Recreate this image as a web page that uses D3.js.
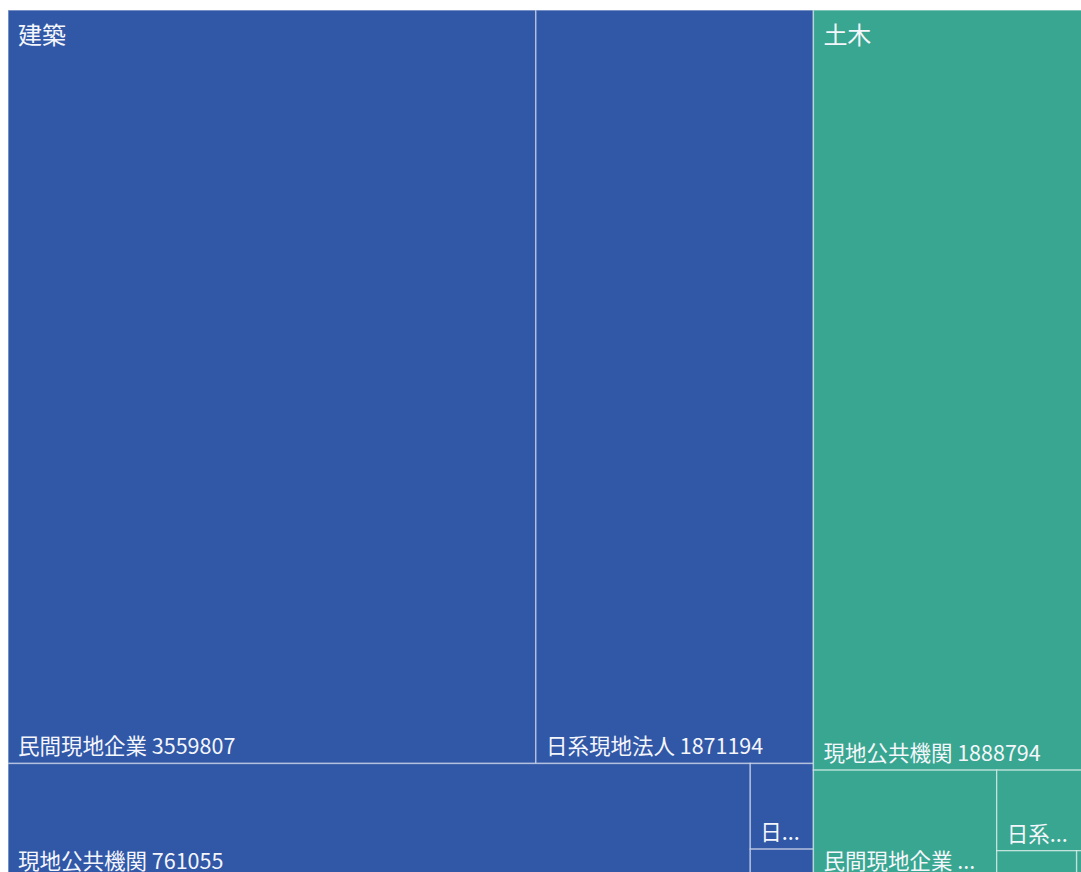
<!DOCTYPE html>
<html>
<head>
<meta charset="utf-8">
<script src="https://cdn.jsdelivr.net/npm/d3@7"></script>
<style>
  html, body { margin: 0; padding: 0; background: #ffffff; overflow: hidden; }
  svg { display: block; }
</style>
</head>
<body>
<svg id="chart" width="1081" height="872"></svg>
<script>
// Data
const groups = ["建築", "土木"];
const groupColors = ["#3157A7", "#38A690"];
const kenchikuNames  = ["民間現地企業", "日系現地法人", "現地公共機関", "日本ODA", "その他"];
const kenchikuValues = [3559807, 1871194, 761055, 48400, 16300];
const dobokuNames    = ["現地公共機関", "民間現地企業", "日系現地法人", "日本ODA", "その他"];
const dobokuValues   = [1888794, 177000, 68000, 19500, 3500];

const data = {
  name: "root",
  children: [
    { name: groups[0], color: groupColors[0],
      children: kenchikuNames.map((n, i) => ({ name: n, value: kenchikuValues[i] })) },
    { name: groups[1], color: groupColors[1],
      children: dobokuNames.map((n, i) => ({ name: n, value: dobokuValues[i] })) }
  ]
};

const svg = d3.select("#chart");
const W = 1083, H = 868, X0 = 8, Y0 = 10;

const root = d3.hierarchy(data)
  .sum(d => d.value || 0)
  .sort((a, b) => b.value - a.value);

d3.treemap()
  .tile(d3.treemapSquarify)
  .size([W, H])
  .paddingInner(0)
  .round(false)(root);

const g = svg.append("g").attr("transform", `translate(${X0},${Y0})`);

const leaves = root.leaves();
const cell = g.selectAll("g.leaf").data(leaves).join("g").attr("class", "leaf");

cell.append("rect")
  .attr("x", d => d.x0)
  .attr("y", d => d.y0)
  .attr("width", d => d.x1 - d.x0)
  .attr("height", d => d.y1 - d.y0)
  .attr("fill", d => d.parent.data.color)
  .attr("stroke", "rgba(255,255,255,0.45)")
  .attr("stroke-width", 1.5);

const font = "'Segoe UI', 'Noto Sans CJK JP', 'Noto Sans', sans-serif";

// leaf labels bottom-left
cell.filter(d => (d.y1 - d.y0) >= 40)
  .append("text")
  .attr("x", d => d.x0 + 10)
  .attr("y", d => d.y1 - 9)
  .attr("fill", "#f4f6fb")
  .style("font-family", font)
  .style("font-size", "21.5px")
  .each(function(d) {
    const t = d3.select(this);
    const full = d.data.name + " " + d.data.value;
    const avail = (d.x1 - d.x0) - 22;
    t.text(full);
    if (this.getComputedTextLength() > avail) {
      // first drop the value, keeping the name
      t.text(d.data.name + " ...");
      if (this.getComputedTextLength() > avail) {
        let n = d.data.name.length - 1;
        while (n > 0) {
          t.text(d.data.name.slice(0, n) + "...");
          if (this.getComputedTextLength() <= avail) break;
          n--;
        }
        if (n === 0) t.text("");
      }
    }
  });

// group labels top-left
const groupNodes = root.children;
g.selectAll("text.group").data(groupNodes).join("text")
  .attr("class", "group")
  .attr("x", d => d.x0 + 10)
  .attr("y", d => d.y0 + 34)
  .attr("fill", "#f4f6fb")
  .style("font-family", font)
  .style("font-size", "24px")
  .text(d => d.data.name);
</script>
</body>
</html>
